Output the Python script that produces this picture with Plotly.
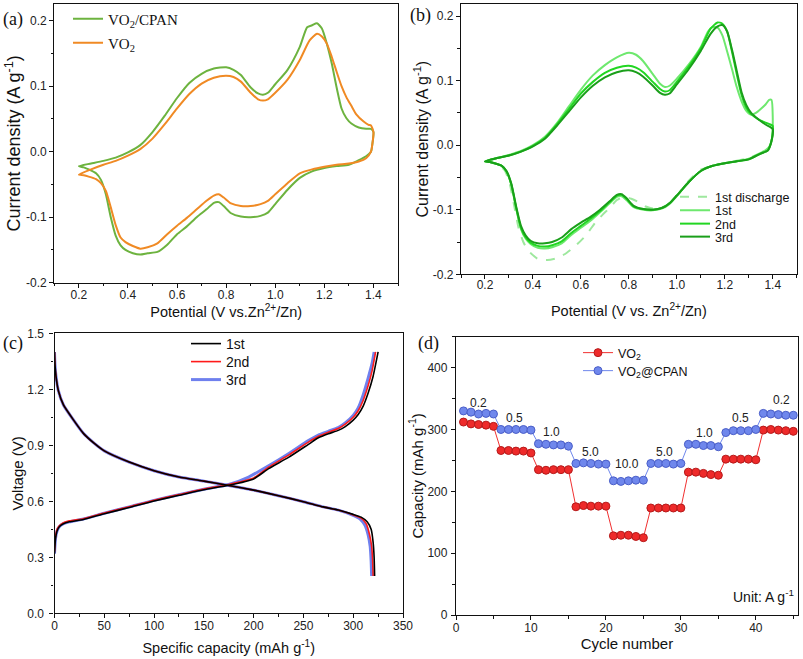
import plotly.graph_objects as go

# ---------------- Panel (a) CV: VO2/CPAN vs VO2 ----------------
a_cpan_x = [0.20,0.25,0.30,0.35,0.40,0.45,0.50,0.55,0.60,0.65,0.70,0.75,0.80,0.83,0.86,0.90,0.93,0.95,0.97,1.00,1.05,1.10,1.13,1.15,1.17,1.19,1.21,1.23,1.25,1.27,1.29,1.31,1.34,1.37,1.39,1.40,
            1.395,1.39,1.37,1.34,1.30,1.25,1.20,1.15,1.10,1.05,1.00,0.97,0.94,0.90,0.86,0.82,0.79,0.77,0.75,0.72,0.68,0.64,0.60,0.56,0.52,0.48,0.45,0.42,0.39,0.37,0.35,0.33,0.31,0.29,0.27,0.24,0.22,0.20]
a_cpan_y = [-0.022,-0.018,-0.014,-0.009,-0.001,0.010,0.030,0.055,0.082,0.105,0.119,0.127,0.129,0.125,0.117,0.098,0.089,0.087,0.090,0.103,0.125,0.160,0.190,0.193,0.196,0.188,0.165,0.135,0.098,0.066,0.051,0.043,0.037,0.035,0.035,0.030,
            0.010,0.000,-0.007,-0.013,-0.020,-0.022,-0.025,-0.030,-0.040,-0.058,-0.080,-0.093,-0.098,-0.100,-0.099,-0.094,-0.083,-0.077,-0.078,-0.088,-0.100,-0.114,-0.126,-0.142,-0.153,-0.155,-0.157,-0.155,-0.150,-0.143,-0.128,-0.100,-0.065,-0.043,-0.033,-0.027,-0.024,-0.022]
a_vo2_x = [0.20,0.25,0.30,0.35,0.40,0.45,0.50,0.55,0.60,0.65,0.70,0.75,0.80,0.83,0.86,0.90,0.93,0.95,0.97,1.00,1.05,1.10,1.14,1.17,1.19,1.21,1.23,1.25,1.27,1.29,1.31,1.33,1.36,1.38,1.39,1.40,
           1.395,1.39,1.37,1.34,1.30,1.25,1.20,1.15,1.10,1.05,1.00,0.97,0.94,0.90,0.86,0.82,0.79,0.77,0.75,0.72,0.68,0.64,0.60,0.56,0.52,0.48,0.45,0.42,0.39,0.37,0.35,0.33,0.31,0.29,0.27,0.24,0.22,0.20]
a_vo2_y = [-0.035,-0.027,-0.020,-0.014,-0.006,0.004,0.020,0.042,0.066,0.088,0.104,0.113,0.116,0.114,0.107,0.090,0.080,0.078,0.080,0.090,0.110,0.140,0.170,0.180,0.176,0.165,0.145,0.122,0.100,0.083,0.070,0.057,0.046,0.041,0.040,0.030,
           0.010,0.000,-0.010,-0.015,-0.018,-0.020,-0.023,-0.027,-0.033,-0.048,-0.065,-0.075,-0.080,-0.083,-0.083,-0.079,-0.070,-0.065,-0.067,-0.075,-0.088,-0.101,-0.113,-0.126,-0.140,-0.146,-0.148,-0.144,-0.138,-0.131,-0.112,-0.085,-0.060,-0.048,-0.042,-0.038,-0.036,-0.035]

# ---------------- Panel (b) CV cycles ----------------
b_dis1_x = [1.35,1.30,1.25,1.20,1.15,1.10,1.05,1.00,0.95,0.90,0.87,0.84,0.81,0.78,0.75,0.72,0.69,0.66,0.62,0.58,0.54,0.50,0.46,0.42,0.38,0.36,0.34,0.32,0.30,0.28,0.25,0.22,0.20]
b_dis1_y = [-0.012,-0.020,-0.024,-0.028,-0.032,-0.038,-0.055,-0.078,-0.095,-0.098,-0.095,-0.088,-0.083,-0.080,-0.085,-0.097,-0.108,-0.120,-0.140,-0.155,-0.167,-0.175,-0.178,-0.176,-0.163,-0.150,-0.128,-0.090,-0.055,-0.038,-0.030,-0.026,-0.025]
b_c1_x = [0.20,0.25,0.30,0.35,0.40,0.45,0.50,0.55,0.60,0.65,0.70,0.75,0.80,0.83,0.86,0.90,0.93,0.95,0.97,1.00,1.05,1.10,1.13,1.15,1.17,1.19,1.21,1.23,1.25,1.27,1.29,1.31,1.33,1.35,1.37,1.385,1.395,1.40,
          1.398,1.39,1.37,1.35,1.30,1.25,1.20,1.15,1.10,1.05,1.00,0.97,0.94,0.90,0.86,0.82,0.79,0.77,0.75,0.72,0.68,0.64,0.60,0.56,0.52,0.48,0.45,0.42,0.39,0.37,0.35,0.33,0.31,0.29,0.27,0.24,0.22,0.20]
b_c1_y = [-0.025,-0.020,-0.015,-0.009,0.000,0.013,0.034,0.060,0.086,0.108,0.124,0.136,0.143,0.140,0.130,0.110,0.095,0.090,0.092,0.103,0.125,0.152,0.176,0.183,0.182,0.170,0.145,0.118,0.090,0.068,0.053,0.047,0.050,0.056,0.063,0.070,0.070,0.045,
          0.015,0.000,-0.008,-0.012,-0.021,-0.025,-0.028,-0.032,-0.040,-0.057,-0.079,-0.091,-0.098,-0.101,-0.100,-0.096,-0.085,-0.079,-0.080,-0.090,-0.104,-0.117,-0.128,-0.139,-0.152,-0.158,-0.160,-0.159,-0.153,-0.145,-0.130,-0.098,-0.062,-0.041,-0.032,-0.028,-0.026,-0.025]
b_c2_x = [0.20,0.25,0.30,0.35,0.40,0.45,0.50,0.55,0.60,0.65,0.70,0.75,0.80,0.83,0.86,0.90,0.93,0.95,0.97,1.00,1.05,1.10,1.14,1.17,1.19,1.21,1.23,1.25,1.27,1.29,1.31,1.34,1.37,1.39,1.40,
          1.397,1.38,1.35,1.30,1.25,1.20,1.15,1.10,1.05,1.00,0.97,0.94,0.90,0.86,0.82,0.79,0.77,0.75,0.72,0.68,0.64,0.60,0.56,0.52,0.48,0.45,0.42,0.39,0.37,0.35,0.33,0.31,0.29,0.27,0.24,0.22,0.20]
b_c2_y = [-0.025,-0.020,-0.016,-0.010,-0.001,0.011,0.032,0.056,0.080,0.098,0.112,0.120,0.123,0.120,0.113,0.098,0.087,0.083,0.085,0.098,0.122,0.150,0.180,0.190,0.188,0.176,0.145,0.110,0.078,0.058,0.048,0.040,0.035,0.032,0.030,
          0.010,-0.008,-0.013,-0.022,-0.025,-0.028,-0.032,-0.040,-0.057,-0.078,-0.090,-0.097,-0.100,-0.099,-0.095,-0.083,-0.077,-0.078,-0.088,-0.102,-0.114,-0.125,-0.136,-0.149,-0.155,-0.157,-0.156,-0.151,-0.143,-0.128,-0.097,-0.061,-0.041,-0.032,-0.028,-0.026,-0.025]
b_c3_x = [0.20,0.25,0.30,0.35,0.40,0.45,0.50,0.55,0.60,0.65,0.70,0.75,0.80,0.83,0.86,0.90,0.93,0.95,0.97,1.00,1.05,1.10,1.14,1.17,1.19,1.21,1.23,1.25,1.27,1.29,1.31,1.34,1.37,1.39,1.40,
          1.397,1.38,1.35,1.30,1.25,1.20,1.15,1.10,1.05,1.00,0.97,0.94,0.90,0.86,0.82,0.79,0.77,0.75,0.72,0.68,0.64,0.60,0.56,0.52,0.48,0.45,0.42,0.39,0.37,0.35,0.33,0.31,0.29,0.27,0.24,0.22,0.20]
b_c3_y = [-0.025,-0.020,-0.016,-0.010,-0.002,0.010,0.030,0.052,0.074,0.092,0.105,0.113,0.116,0.113,0.106,0.092,0.081,0.078,0.080,0.094,0.118,0.146,0.172,0.184,0.186,0.176,0.148,0.115,0.082,0.062,0.050,0.040,0.032,0.028,0.025,
          0.010,-0.008,-0.013,-0.022,-0.025,-0.028,-0.032,-0.040,-0.057,-0.078,-0.090,-0.097,-0.100,-0.099,-0.094,-0.082,-0.076,-0.077,-0.087,-0.100,-0.111,-0.120,-0.130,-0.143,-0.150,-0.152,-0.152,-0.148,-0.140,-0.125,-0.095,-0.060,-0.040,-0.032,-0.028,-0.026,-0.025]

# ---------------- Panel (c) charge/discharge ----------------
c1_dis_cap = [0,0.5,1.5,4,9,19,29,40,50,75,100,125,150,175,200,225,250,270,285,300,308,314,318,320,321,321.5]
c1_dis_v = [1.40,1.33,1.27,1.19,1.116,1.036,0.964,0.91,0.87,0.81,0.764,0.73,0.708,0.685,0.66,0.63,0.598,0.57,0.553,0.53,0.515,0.49,0.45,0.38,0.30,0.20]
c2_dis_cap = [0,0.5,1.5,4,9,19,29,40,50,75,100,125,150,175,200,225,250,270,285,300,308,313,316,318.5,319.5,320]
c2_dis_v = [1.40,1.33,1.27,1.19,1.116,1.036,0.964,0.91,0.87,0.81,0.764,0.73,0.708,0.685,0.66,0.63,0.598,0.57,0.553,0.527,0.51,0.48,0.43,0.36,0.28,0.20]
c3_dis_cap = [0,0.5,1.5,4,9,19,29,40,50,75,100,125,150,175,200,225,250,270,285,300,307,312,315,317,318,318.5]
c3_dis_v = [1.40,1.33,1.27,1.19,1.116,1.036,0.964,0.91,0.87,0.81,0.764,0.73,0.708,0.685,0.66,0.63,0.598,0.57,0.553,0.525,0.505,0.47,0.42,0.36,0.28,0.20]
c1_chg_cap = [0,1,2.5,5,9,15,29,50,75,100,125,150,175,200,215,235,255,265,275,285,292,300,305,310,315,320,325]
c1_chg_v = [0.32,0.40,0.44,0.465,0.48,0.49,0.503,0.533,0.567,0.602,0.632,0.662,0.686,0.72,0.775,0.835,0.905,0.94,0.962,0.98,1.0,1.035,1.065,1.11,1.18,1.27,1.40]
c2_chg_cap = [0,1,2.5,5,9,15,29,50,75,100,125,150,175,200,215,235,255,265,275,285,292,300,305,310,315,319,322.5]
c2_chg_v = [0.33,0.41,0.45,0.47,0.485,0.495,0.507,0.537,0.571,0.606,0.636,0.666,0.69,0.725,0.783,0.847,0.917,0.948,0.97,0.99,1.013,1.05,1.085,1.14,1.22,1.30,1.40]
c3_chg_cap = [0,1,2.5,5,9,15,29,50,75,100,125,150,175,195,215,235,255,265,275,285,292,300,305,310,315,319,321]
c3_chg_v = [0.32,0.40,0.44,0.465,0.48,0.49,0.505,0.536,0.57,0.605,0.635,0.665,0.69,0.73,0.79,0.855,0.925,0.955,0.975,0.995,1.02,1.06,1.10,1.17,1.26,1.34,1.40]

# ---------------- Panel (d) rate capability ----------------
d_cycles = list(range(1, 46))
d_vo2 = [312,309,308,307,305, 266,266,265,265,262, 235,234,235,235,235, 175,177,176,176,176,
         128,129,129,127,125, 173,173,173,173,173, 231,231,229,227,226, 252,252,252,252,251,
         299,300,299,298,297]
d_cpan = [330,328,325,326,325, 300,300,300,300,299, 277,276,275,275,273, 245,246,245,244,244,
          217,216,217,218,218, 245,245,245,244,245, 276,276,274,274,272, 295,298,298,298,300,
          326,325,324,323,323]
d_rate_labels = ["0.2","0.5","1.0","5.0","10.0","5.0","1.0","0.5","0.2"]
d_rate_x = [3.0,7.8,12.8,18.0,22.8,27.8,33.1,38.0,43.4]
d_rate_y = [342,319,296,263,244,263,295,319,347]

# ---------------- tick labels ----------------
cv_yticks = [-0.2,-0.1,0.0,0.1,0.2]
cv_yticklabels = ["-0.2","-0.1","0.0","0.1","0.2"]
cv_xticks = [0.2,0.4,0.6,0.8,1.0,1.2,1.4]
cv_xticklabels = ["0.2","0.4","0.6","0.8","1.0","1.2","1.4"]
c_yticks = [0.0,0.3,0.6,0.9,1.2,1.5]
c_yticklabels = ["0.0","0.3","0.6","0.9","1.2","1.5"]

SANS = "Liberation Sans, Arial, sans-serif"
SERIF = "Liberation Serif, Times New Roman, serif"
W, H = 803, 659

def px(x):
    return x / W

def py(y):
    return 1 - y / H

fig = go.Figure()

# (a)
fig.add_trace(go.Scatter(x=a_cpan_x, y=a_cpan_y, mode="lines", name="VO<sub>2</sub>/CPAN",
                         line=dict(color="#6db33f", width=2, shape="spline", smoothing=0.6),
                         xaxis="x", yaxis="y", legend="legend"))
fig.add_trace(go.Scatter(x=a_vo2_x, y=a_vo2_y, mode="lines", name="VO<sub>2</sub>",
                         line=dict(color="#f08a24", width=2, shape="spline", smoothing=0.6),
                         xaxis="x", yaxis="y", legend="legend2"))
# (b)
fig.add_trace(go.Scatter(x=b_dis1_x, y=b_dis1_y, mode="lines", name="1st discharge",
                         line=dict(color="#9ee89e", width=2, dash="dash", shape="spline", smoothing=0.6),
                         xaxis="x2", yaxis="y2", legend="legend3"))
fig.add_trace(go.Scatter(x=b_c1_x, y=b_c1_y, mode="lines", name="1st",
                         line=dict(color="#6ee86e", width=2, shape="spline", smoothing=0.6),
                         xaxis="x2", yaxis="y2", legend="legend4"))
fig.add_trace(go.Scatter(x=b_c2_x, y=b_c2_y, mode="lines", name="2nd",
                         line=dict(color="#22d622", width=2, shape="spline", smoothing=0.6),
                         xaxis="x2", yaxis="y2", legend="legend5"))
fig.add_trace(go.Scatter(x=b_c3_x, y=b_c3_y, mode="lines", name="3rd",
                         line=dict(color="#1a9f1a", width=2, shape="spline", smoothing=0.6),
                         xaxis="x2", yaxis="y2", legend="legend6"))
# (c)  draw 3rd (wide blue) first, then 2nd, then 1st
fig.add_trace(go.Scatter(x=c3_dis_cap + [None] + c3_chg_cap, y=c3_dis_v + [None] + c3_chg_v,
                         mode="lines", name="3rd", line=dict(color="#6f80ee", width=3, shape="spline", smoothing=0.5),
                         xaxis="x3", yaxis="y3", legend="legend9"))
fig.add_trace(go.Scatter(x=c2_dis_cap + [None] + c2_chg_cap, y=c2_dis_v + [None] + c2_chg_v,
                         mode="lines", name="2nd", line=dict(color="#ff1a1a", width=1.6, shape="spline", smoothing=0.5),
                         xaxis="x3", yaxis="y3", legend="legend8"))
fig.add_trace(go.Scatter(x=c1_dis_cap + [None] + c1_chg_cap, y=c1_dis_v + [None] + c1_chg_v,
                         mode="lines", name="1st", line=dict(color="#000000", width=1.6, shape="spline", smoothing=0.5),
                         xaxis="x3", yaxis="y3", legend="legend7"))
# (d)
fig.add_trace(go.Scatter(x=d_cycles, y=d_vo2, mode="lines+markers", name="VO<sub>2</sub>",
                         line=dict(color="#f03030", width=1),
                         marker=dict(symbol="circle", size=8, color="#ee2a2a", line=dict(color="#b51a1a", width=1)),
                         xaxis="x4", yaxis="y4", legend="legend10"))
fig.add_trace(go.Scatter(x=d_cycles, y=d_cpan, mode="lines+markers", name="VO<sub>2</sub>@CPAN",
                         line=dict(color="#6f87ec", width=1),
                         marker=dict(symbol="circle", size=8, color="#6f87ec", line=dict(color="#4a5ec8", width=1)),
                         xaxis="x4", yaxis="y4", legend="legend11"))

def axis(domain, rng, anchor, title, tfont, standoff, lblstand, **kw):
    d = dict(domain=domain, range=rng, anchor=anchor, showline=True, linecolor="#111", linewidth=1.3,
             mirror=True, ticks="outside", ticklen=4, tickwidth=1.2, tickcolor="#111",
             showgrid=False, zeroline=False,
             tickfont=dict(family=SANS, size=12, color="#222"),
             title=dict(text=title, font=dict(family=SANS, size=tfont, color="#111"), standoff=standoff))
    if lblstand:
        d["ticklabelstandoff"] = lblstand
    d.update(kw)
    return d

def minor(step):
    return dict(ticks="outside", ticklen=2.5, tickwidth=1, tickcolor="#111", dtick=step, showgrid=False)

layout = dict(width=W, height=H, margin=dict(l=0, r=0, t=0, b=0, autoexpand=False),
              plot_bgcolor="white", paper_bgcolor="white", showlegend=True)

layout["xaxis"] = axis([px(54.3), px(398)], [0.1, 1.5], "y", "Potential (V vs.Zn<sup>2+</sup>/Zn)", 14.5, 3, -3,
                       tickvals=cv_xticks, ticktext=cv_xticklabels, minor=minor(0.1))
layout["yaxis"] = axis([py(282.7), py(4)], [-0.2, 0.2255], "x", "Current density (A g<sup>-1</sup>)", 18, 0, 0,
                       tickvals=cv_yticks, ticktext=cv_yticklabels, minor=minor(0.05))
layout["xaxis2"] = axis([px(461), px(796.7)], [0.1, 1.5], "y2", "Potential (V vs. Zn<sup>2+</sup>/Zn)", 14.5, 15, -5,
                        tickvals=cv_xticks, ticktext=cv_xticklabels, minor=minor(0.1))
layout["yaxis2"] = axis([py(274.3), py(4)], [-0.2, 0.2186], "x2", "Current density (A g<sup>-1</sup>)", 16, 0, 0,
                        tickvals=cv_yticks, ticktext=cv_yticklabels, minor=minor(0.05))
layout["xaxis3"] = axis([px(54.5), px(403)], [0, 350], "y3", "Specific capacity (mAh g<sup>-1</sup>)", 14.5, 11, -3,
                        dtick=50, tick0=0, minor=minor(25))
layout["yaxis3"] = axis([py(613.3), py(333.3)], [0, 1.5], "x3", "Voltage (V)", 15, 0, 3,
                        tickvals=c_yticks, ticktext=c_yticklabels, minor=minor(0.15))
layout["xaxis4"] = axis([px(456), px(797.8)], [0, 45.6], "y4", "Cycle number", 15, 3, -3,
                        dtick=10, tick0=0, minor=minor(5))
layout["yaxis4"] = axis([py(615), py(336.7)], [0, 450], "x4", "Capacity (mAh g<sup>-1</sup>)", 15, 0, 1,
                        dtick=100, tick0=0, minor=minor(50))

def leg(x, y, family, size):
    return dict(x=px(x), y=py(y), xanchor="left", yanchor="middle", bgcolor="rgba(0,0,0,0)",
                borderwidth=0, font=dict(family=family, size=size, color="#111"), itemwidth=30,
                tracegroupgap=0, visible=True)

layout["legend"] = leg(68, 19, SERIF, 15)
layout["legend2"] = leg(68, 43, SERIF, 15)
layout["legend3"] = leg(675, 197, SANS, 12.5)
layout["legend4"] = leg(675, 210.5, SANS, 12.5)
layout["legend5"] = leg(675, 224, SANS, 12.5)
layout["legend6"] = leg(675, 237, SANS, 12.5)
layout["legend7"] = leg(186, 344, SANS, 14)
layout["legend8"] = leg(186, 362, SANS, 14)
layout["legend9"] = leg(186, 380, SANS, 14)
layout["legend10"] = leg(578, 353, SANS, 12.5)
layout["legend11"] = leg(578, 371, SANS, 12.5)

annotations = []
for lab, x, y in [("(a)", 13, 20), ("(b)", 420, 16), ("(c)", 13, 343), ("(d)", 428, 343)]:
    annotations.append(dict(text=lab, x=px(x), y=py(y), xref="paper", yref="paper", showarrow=False,
                            xanchor="center", yanchor="middle", font=dict(family=SERIF, size=18, color="#111")))
for lab, x, y in zip(d_rate_labels, d_rate_x, d_rate_y):
    annotations.append(dict(text=lab, x=x, y=y, xref="x4", yref="y4", showarrow=False,
                            xanchor="center", yanchor="middle", font=dict(family=SANS, size=12, color="#222")))
annotations.append(dict(text="Unit: A g<sup>-1</sup>", x=45.4, y=30, xref="x4", yref="y4", showarrow=False,
                        xanchor="right", yanchor="middle", font=dict(family=SANS, size=14, color="#111")))
layout["annotations"] = annotations

fig.update_layout(**layout)
fig.write_html("out.html", config={"displayModeBar": False},
               post_script="document.body.style.margin='0px';")
